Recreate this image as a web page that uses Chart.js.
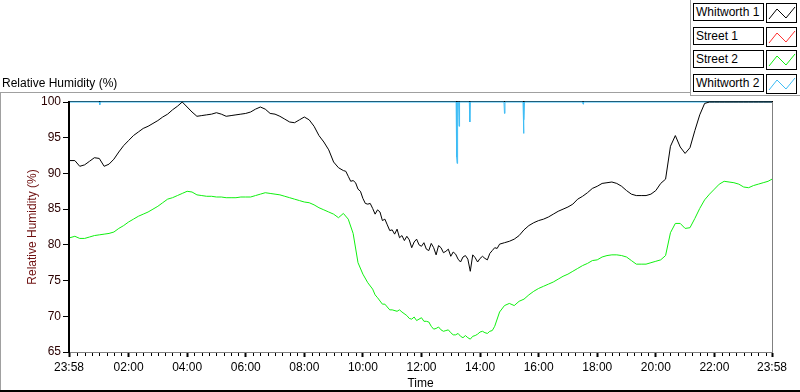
<!DOCTYPE html>
<html>
<head>
<meta charset="utf-8">
<script src="https://cdn.jsdelivr.net/npm/chart.js@4.4.1/dist/chart.umd.min.js"></script>
<style>
  body { margin: 0; background: #fff; }
  #wrap { position: relative; width: 800px; height: 392px; overflow: hidden;
          font-family: "Liberation Sans", Arial, sans-serif; font-size: 12px; color: #000; }
  #chart { position: absolute; left: 0; top: 0; }
  .rule { position: absolute; background: #a0a0a0; }
  #plot-title { position: absolute; left: 2px; top: 76px; white-space: nowrap; }
  .legend-row { position: absolute; left: 693px; width: 105px; height: 20px; }
  .legend-name { position: absolute; left: 0; top: 0; width: 67px; height: 16px; padding-left: 2px;
                 border: 1px solid #000; line-height: 16px; white-space: nowrap; background: #fff; }
  .legend-swatch { position: absolute; left: 73px; top: 0; width: 29px; height: 18px; border: 1px solid #000; background: #fff; }
</style>
</head>
<body>
<div id="wrap">
  <canvas id="chart" width="800" height="392"></canvas>
  <div class="rule" style="left:0;top:92px;width:690px;height:1px;"></div>
  <div class="rule" style="left:0;top:92px;width:1px;height:300px;"></div>
  <div class="rule" style="left:690px;top:0;width:1px;height:96px;"></div>
  <div class="rule" style="left:690px;top:95px;width:110px;height:1px;"></div>
  <div style="position:absolute;left:0;top:390px;width:800px;height:2px;background:#000;"></div>
  <div id="plot-title">Relative Humidity (%)</div>
  <div id="legend"></div>
</div>
<script>
// sample grid for the two logged series (minutes after midnight)
const sampleMinutes = [];
for (let m = 0; m <= 1430; m += 10) sampleMinutes.push(m);
sampleMinutes.push(1438);

const whitworth1 = [
  91.8, 91.8, 91.0, 91.2, 91.7, 92.2, 92.1, 91.0, 91.3, 92.0,
  93.0, 93.9, 94.6, 95.3, 95.8, 96.3, 96.6, 97.0, 97.4, 97.9,
  98.3, 98.9, 99.4, 100.0, 99.3, 98.6, 98.0, 98.1, 98.2, 98.3,
  98.5, 98.3, 98.0, 98.1, 98.2, 98.3, 98.4, 98.6, 99.0, 99.3,
  99.0, 98.4, 98.3, 98.0, 97.6, 97.2, 97.1, 97.5, 97.9, 97.5,
  96.6, 95.3, 94.4, 93.3, 91.6, 90.8, 90.4, 89.6, 89.0, 87.8,
  86.5, 85.7, 85.1, 84.9, 83.4, 82.8, 82.1, 82.2, 81.3, 81.2,
  79.6, 80.8, 79.8, 79.4, 80.2, 78.6, 79.6, 79.1, 78.4, 78.7,
  77.6, 78.5, 76.3, 78.2, 78.1, 78.1, 78.8, 79.6, 80.1, 80.3,
  80.5, 80.8, 81.3, 82.1, 82.7, 83.1, 83.4, 83.6, 83.9, 84.3,
  84.7, 85.0, 85.3, 85.7, 86.4, 86.8, 87.3, 87.9, 88.2, 88.6,
  88.7, 88.8, 88.6, 88.2, 87.6, 87.1, 86.9, 86.9, 86.9, 87.1,
  87.6, 88.6, 89.2, 93.8, 95.3, 93.7, 92.8, 93.6, 96.0, 98.2,
  99.8, 100, 100, 100, 100, 100, 100, 100, 100, 100,
  100, 100, 100, 100, 100
];

// extra readings in the noisy midday stretch of Whitworth 1
const whitworth1NoiseMinutes = [565, 575, 585, 595, 605, 615, 625, 635, 645, 655, 665, 675, 685, 695, 705, 715,
  725, 735, 745, 755, 765, 775, 785, 795, 805, 815, 825, 835, 845, 855, 865, 875];
const whitworth1Noise = [90.3, 88.9, 88.7, 87.5, 85.8, 85.8, 84.3, 84.6, 83.6, 82.0, 81.5, 81.0, 80.6, 80.7, 80.4, 80.0,
  80.3, 79.2, 79.6, 79.9, 78.9, 79.4, 79.0, 78.0, 78.3, 78.0, 78.6, 77.6, 78.4, 77.9, 79.2, 79.5];

const street2 = [
  81.0, 81.2, 80.9, 80.9, 81.1, 81.3, 81.4, 81.5, 81.6, 81.8,
  82.3, 82.7, 83.2, 83.6, 84.0, 84.3, 84.6, 85.0, 85.4, 85.9,
  86.4, 86.6, 86.9, 87.2, 87.5, 87.4, 87.0, 86.9, 86.8, 86.8,
  86.7, 86.7, 86.6, 86.6, 86.6, 86.7, 86.7, 86.7, 86.9, 87.1,
  87.3, 87.2, 87.1, 87.0, 86.8, 86.6, 86.4, 86.2, 86.0, 85.9,
  85.6, 85.2, 84.9, 84.6, 84.3, 83.8, 84.4, 83.6, 81.6, 77.5,
  75.9, 74.7, 73.8, 72.6, 71.7, 71.3, 70.9, 70.7, 70.6, 70.1,
  69.6, 69.4, 69.8, 69.3, 68.6, 68.3, 68.1, 68.0, 67.7, 67.4,
  67.2, 67.3, 66.8, 67.3, 67.8, 67.7, 67.9, 68.6, 70.6, 71.5,
  71.8, 71.5, 72.1, 72.4, 73.0, 73.5, 73.9, 74.2, 74.5, 74.8,
  75.2, 75.6, 75.9, 76.3, 76.7, 77.1, 77.4, 77.8, 77.9, 78.3,
  78.5, 78.6, 78.6, 78.5, 78.3, 77.8, 77.3, 77.3, 77.3, 77.5,
  77.7, 77.9, 78.5, 81.7, 83.0, 83.0, 82.3, 82.4, 83.7, 85.1,
  86.3, 87.1, 87.8, 88.5, 88.9, 88.8, 88.7, 88.5, 88.1, 88.0,
  88.3, 88.5, 88.7, 88.9, 89.2
];

const street2NoiseMinutes = [625, 645, 655, 675, 695, 705, 725, 735, 745, 755, 765, 775, 785, 795, 805, 815,
  825, 835, 845, 855, 865];
const street2Noise = [73.0, 71.7, 70.9, 70.9, 69.7, 69.9, 69.3, 69.2, 68.2, 68.5, 67.9, 68.1, 67.4, 67.6, 67.0, 67.0,
  67.2, 67.5, 67.9, 67.6, 68.0];

// Whitworth 2 sits at 100 % with a few short drop-outs
const whitworth2Minutes = [0, 60, 61, 62, 791, 792, 793, 794, 796, 797, 798, 818, 819, 820,
  889, 890, 891, 928, 929, 930, 931, 1050, 1051, 1052, 1438];
const whitworth2 = [100, 100, 99.6, 100, 100, 92.3, 91.4, 100, 100, 96.6, 100, 100, 97.2, 100,
  100, 98.4, 100, 100, 95.6, 97.5, 100, 100, 99.7, 100, 100];

// Street 1 logged nothing for this day
const street1Minutes = [];
const street1 = [];

const seriesNames = ['Whitworth 1', 'Street 1', 'Street 2', 'Whitworth 2'];
const seriesColors = ['#000000', '#ff3030', '#10f010', '#3dbcf5'];

const xTickMinutes = [-2, 120, 240, 360, 480, 600, 720, 840, 960, 1080, 1200, 1320, 1438];
const yTicks = [65, 70, 75, 80, 85, 90, 95, 100];

const uiFont = { family: '"Liberation Sans", Arial, sans-serif', size: 12 };

function toPoints(xs, ys) {
    return xs.map((x, i) => ({ x: x, y: ys[i] }));
}

function mergePoints(a, b) {
    return a.concat(b).sort((p, q) => p.x - q.x);
}

function clockLabel(v) {
    const m = ((Math.round(v) % 1440) + 1440) % 1440;
    const hh = String(Math.floor(m / 60)).padStart(2, '0');
    const mm = String(m % 60).padStart(2, '0');
    return hh + ':' + mm;
}

// legend boxes (top right)
const legendEl = document.getElementById('legend');
const legendTops = [3, 27, 50, 74];
seriesNames.forEach((name, i) => {
    const row = document.createElement('div');
    row.className = 'legend-row';
    row.style.top = legendTops[i] + 'px';
    row.innerHTML = '<div class="legend-name">' + name + '</div>' +
        '<div class="legend-swatch"><svg width="29" height="18">' +
        '<polyline points="2,15 10,5 19,14 28,3" fill="none" stroke="' + seriesColors[i] + '" stroke-width="1"/>' +
        '</svg></div>';
    legendEl.appendChild(row);
});

// plot frame: black top edge, grey right edge
const framePlugin = {
    id: 'frame',
    beforeDatasetsDraw(chart) {
        const { ctx, chartArea } = chart;
        ctx.save();
        ctx.lineWidth = 1;
        ctx.strokeStyle = '#000';
        ctx.beginPath();
        ctx.moveTo(chartArea.left, chartArea.top - 0.5);
        ctx.lineTo(chartArea.right + 1, chartArea.top - 0.5);
        ctx.stroke();
        ctx.strokeStyle = '#808080';
        ctx.beginPath();
        ctx.moveTo(chartArea.right + 0.5, chartArea.top);
        ctx.lineTo(chartArea.right + 0.5, chartArea.bottom + 1);
        ctx.stroke();
        ctx.restore();
    }
};

// small ticks every 15 minutes on the time axis
const minorTickPlugin = {
    id: 'minorTicks',
    afterDraw(chart) {
        const { ctx, chartArea, scales } = chart;
        ctx.save();
        ctx.strokeStyle = '#000';
        ctx.lineWidth = 1;
        for (let m = 15; m < 1438; m += 15) {
            if (m % 120 === 0) continue;
            const px = Math.round(scales.x.getPixelForValue(m)) + 0.5;
            ctx.beginPath();
            ctx.moveTo(px, chartArea.bottom + 1);
            ctx.lineTo(px, chartArea.bottom + 4);
            ctx.stroke();
        }
        ctx.restore();
    }
};

const lineStyle = { borderWidth: 1, pointRadius: 0, tension: 0, fill: false, clip: 4 };

new Chart(document.getElementById('chart').getContext('2d'), {
    type: 'line',
    data: {
        datasets: [
            { label: seriesNames[0], data: mergePoints(toPoints(sampleMinutes, whitworth1), toPoints(whitworth1NoiseMinutes, whitworth1Noise)), borderColor: seriesColors[0], ...lineStyle },
            { label: seriesNames[1], data: toPoints(street1Minutes, street1), borderColor: seriesColors[1], ...lineStyle },
            { label: seriesNames[2], data: mergePoints(toPoints(sampleMinutes, street2), toPoints(street2NoiseMinutes, street2Noise)), borderColor: seriesColors[2], ...lineStyle },
            { label: seriesNames[3], data: toPoints(whitworth2Minutes, whitworth2), borderColor: seriesColors[3], ...lineStyle }
        ]
    },
    options: {
        responsive: false,
        animation: false,
        layout: { padding: { top: 102, right: 28, left: 0, bottom: 0 } },
        plugins: {
            legend: { display: false },
            tooltip: { enabled: false }
        },
        scales: {
            x: {
                type: 'linear',
                min: -2,
                max: 1438,
                afterFit: s => { s.height = 40; },
                afterBuildTicks: s => { s.ticks = xTickMinutes.map(v => ({ value: v })); },
                ticks: {
                    autoSkip: false,
                    maxRotation: 0,
                    padding: 3,
                    color: '#000',
                    font: uiFont,
                    callback: v => clockLabel(v)
                },
                grid: { display: true, drawOnChartArea: false, drawTicks: true, tickLength: 5, tickColor: '#000', tickWidth: 2 },
                border: { display: true, color: '#808080', width: 1 },
                title: { display: true, text: 'Time', color: '#000', font: uiFont, padding: { top: 0, bottom: 1 } }
            },
            y: {
                min: 65,
                max: 100,
                afterFit: s => { s.width = 69; },
                afterBuildTicks: s => { s.ticks = yTicks.map(v => ({ value: v })); },
                ticks: { padding: 2, color: '#2a0000', font: uiFont },
                grid: { display: true, drawOnChartArea: false, drawTicks: true, tickLength: 6, tickColor: '#000', tickWidth: 1 },
                border: { display: true, color: '#000', width: 2 },
                title: { display: true, text: 'Relative Humidity (%)', color: '#6e0f0f', font: uiFont, padding: { top: 25, bottom: 0 } }
            }
        }
    },
    plugins: [framePlugin, minorTickPlugin]
});
</script>
</body>
</html>
